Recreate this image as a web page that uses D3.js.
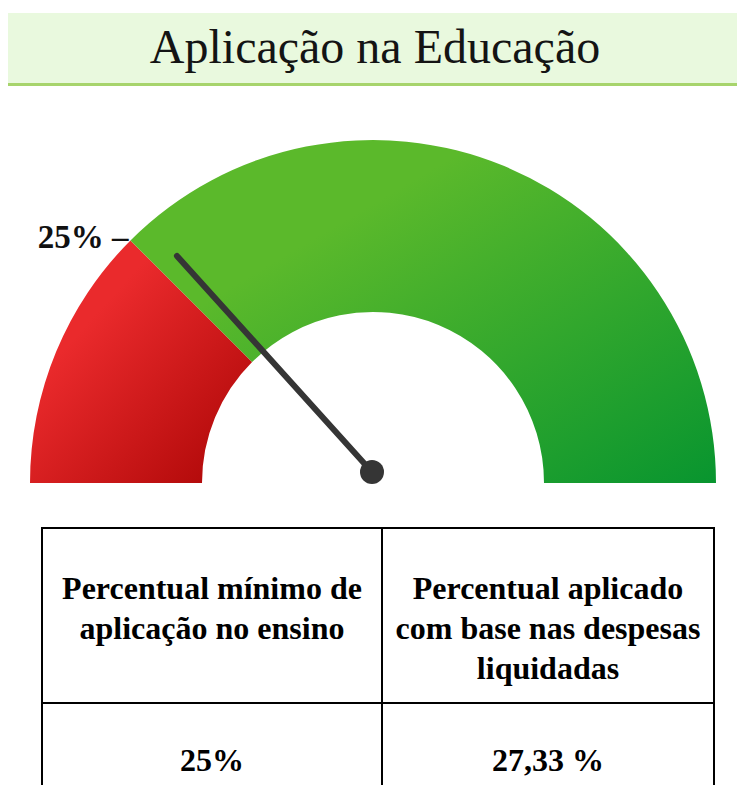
<!DOCTYPE html>
<html>
<head>
<meta charset="utf-8">
<script src="https://cdn.jsdelivr.net/npm/d3@7"></script>
<style>
  html, body { margin: 0; padding: 0; background: #fff; }
  svg { display: block; }
</style>
</head>
<body>
<div id="chart"></div>
<script>
// Data
const title = 'Aplicação na Educação';
const bands = [
  { from: 0, to: 25, name: 'abaixo' },
  { from: 25, to: 100, name: 'acima' }
];
const minimum = 25;
const minimumLabel = '25% –';
const applied = 27.33;
const headers = [
  ['Percentual mínimo de', 'aplicação no ensino'],
  ['Percentual aplicado', 'com base nas despesas', 'liquidadas']
];
const values = ['25%', '27,33 %'];

const width = 737, height = 785;
const cx = 373, cy = 483, outerR = 343, innerR = 171;
const serif = '"Liberation Serif", "Times New Roman", serif';

const svg = d3.select('#chart').append('svg')
  .attr('width', width)
  .attr('height', height);

const defs = svg.append('defs');
const gradients = [
  { id: 'grad-red', c0: '#ea2a2c', c1: '#aa0505' },
  { id: 'grad-green', c0: '#5bb92b', c1: '#08952f' }
];
gradients.forEach(g => {
  const lg = defs.append('linearGradient')
    .attr('id', g.id)
    .attr('x1', 0).attr('y1', 0).attr('x2', 1).attr('y2', 1);
  lg.append('stop').attr('offset', '0%').attr('stop-color', g.c0);
  lg.append('stop').attr('offset', '30%').attr('stop-color', g.c0);
  lg.append('stop').attr('offset', '100%').attr('stop-color', g.c1);
});

// Title band
svg.append('rect')
  .attr('x', 8).attr('y', 13)
  .attr('width', width - 8).attr('height', 71)
  .attr('fill', '#e9f9de');
svg.append('line')
  .attr('x1', 8).attr('x2', width)
  .attr('y1', 84.5).attr('y2', 84.5)
  .attr('stroke', '#a7d46c')
  .attr('stroke-width', 3);
svg.append('text')
  .attr('x', 375).attr('y', 63)
  .attr('text-anchor', 'middle')
  .attr('font-family', serif)
  .attr('font-size', 48)
  .attr('fill', '#141414')
  .text(title);

// Gauge
const angle = d3.scaleLinear().domain([0, 100]).range([-Math.PI / 2, Math.PI / 2]);
const arc = d3.arc().innerRadius(innerR).outerRadius(outerR);
const gauge = svg.append('g').attr('transform', `translate(${cx},${cy})`);

gauge.selectAll('.band')
  .data(bands)
  .enter()
  .append('path')
  .attr('class', 'band')
  .attr('d', d => arc({ startAngle: angle(d.from), endAngle: angle(d.to) }))
  .attr('fill', (d, i) => `url(#${gradients[i].id})`);

// Minimum marker label
const ma = angle(minimum);
gauge.append('text')
  .attr('x', outerR * Math.sin(ma) - 2)
  .attr('y', -outerR * Math.cos(ma) + 8)
  .attr('text-anchor', 'end')
  .attr('font-family', serif)
  .attr('font-weight', 'bold')
  .attr('font-size', 33)
  .attr('fill', '#111')
  .text(minimumLabel);

// Needle
const na = angle(applied);
const needleLen = 300;
const pivotY = -11;
gauge.append('line')
  .attr('x1', -1).attr('y1', pivotY)
  .attr('x2', needleLen * Math.sin(na))
  .attr('y2', -needleLen * Math.cos(na))
  .attr('stroke', '#353535')
  .attr('stroke-width', 6)
  .attr('stroke-linecap', 'round');
gauge.append('circle')
  .attr('cx', -1).attr('cy', pivotY)
  .attr('r', 12)
  .attr('fill', '#353535');

// Table
const tLeft = 42, tMid = 382, tRight = 714, tTop = 528, tRow = 703;
const cols = [
  { x0: tLeft, x1: tMid },
  { x0: tMid, x1: tRight }
];
const table = svg.append('g');

table.append('rect')
  .attr('x', tLeft).attr('y', tTop)
  .attr('width', tRight - tLeft).attr('height', height - tTop + 20)
  .attr('fill', 'none')
  .attr('stroke', '#000')
  .attr('stroke-width', 2);
table.append('line')
  .attr('x1', tMid).attr('x2', tMid)
  .attr('y1', tTop).attr('y2', height + 10)
  .attr('stroke', '#000').attr('stroke-width', 2);
table.append('line')
  .attr('x1', tLeft).attr('x2', tRight)
  .attr('y1', tRow).attr('y2', tRow)
  .attr('stroke', '#000').attr('stroke-width', 2);

headers.forEach((lines, i) => {
  const c = cols[i];
  table.append('g')
    .selectAll('text')
    .data(lines)
    .enter()
    .append('text')
    .attr('x', (c.x0 + c.x1) / 2)
    .attr('y', (d, j) => 599 + j * 40)
    .attr('text-anchor', 'middle')
    .attr('font-family', serif)
    .attr('font-weight', 'bold')
    .attr('font-size', 32)
    .attr('fill', '#000')
    .text(d => d);
});

table.selectAll('.val')
  .data(values)
  .enter()
  .append('text')
  .attr('class', 'val')
  .attr('x', (d, i) => (cols[i].x0 + cols[i].x1) / 2)
  .attr('y', 771)
  .attr('text-anchor', 'middle')
  .attr('font-family', serif)
  .attr('font-weight', 'bold')
  .attr('font-size', 32)
  .attr('fill', '#000')
  .text(d => d);
</script>
</body>
</html>
